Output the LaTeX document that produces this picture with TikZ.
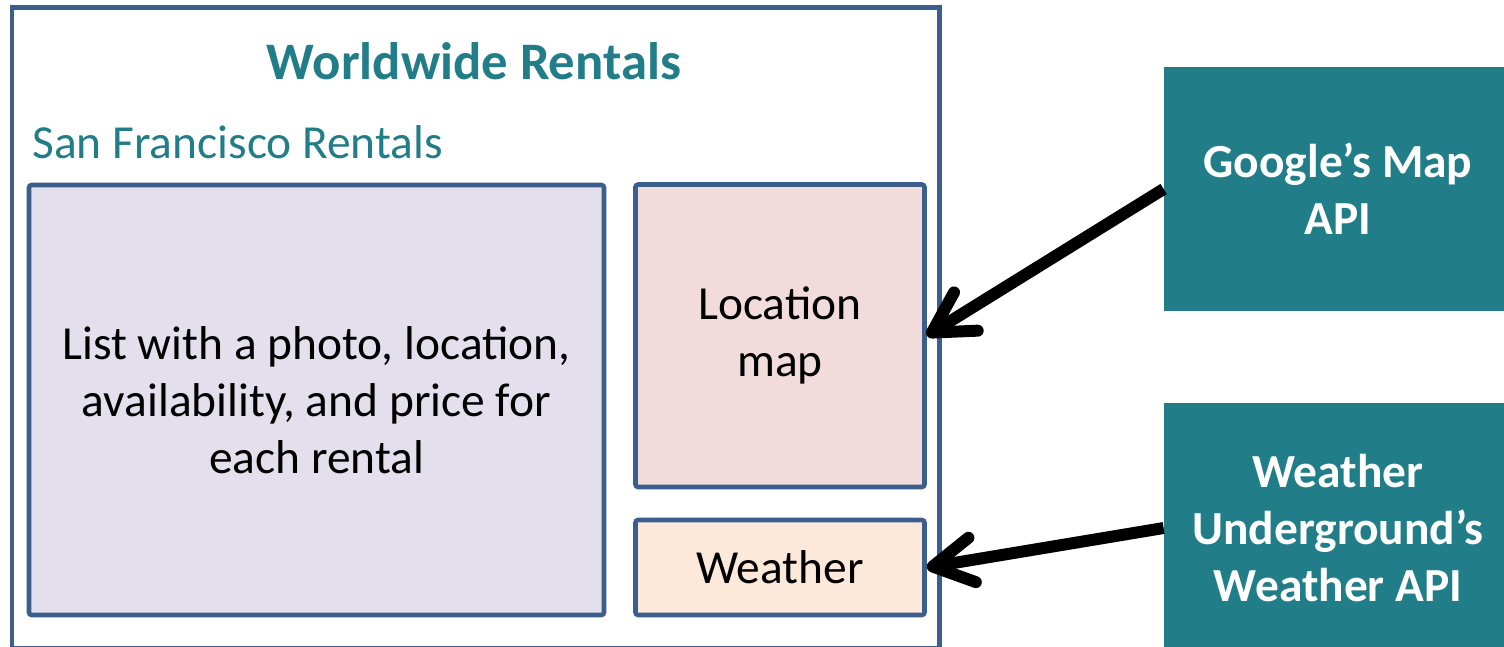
\documentclass[tikz,border=0pt]{standalone}
\usepackage{fontspec}
\setmainfont{Carlito}
\usetikzlibrary{arrows.meta, positioning}
\definecolor{frameblue}{HTML}{3B5E8C}
\definecolor{apiteal}{HTML}{217E89}
\definecolor{listfill}{HTML}{E4DFEC}
\definecolor{mapfill}{HTML}{F2DCDB}
\definecolor{wxfill}{HTML}{FDE9D9}
\tikzset{
  % cornice della pagina web
  pagebox/.style={draw=frameblue, line width=2.6pt, fill=white, inner sep=0pt},
  % area interna della pagina
  area/.style={draw=frameblue, line width=2.6pt, rounded corners=1.5pt, align=center,
    inner sep=0pt, font=\fontsize{27}{32.5}\selectfont},
  % servizio esterno (API)
  api/.style={fill=apiteal, text=white, align=center, inner sep=0pt,
    font=\fontsize{27}{32.5}\selectfont\bfseries},
  % titoli della pagina
  head/.style={text=apiteal, inner sep=0pt},
  % freccia dei dati
  feed/.style={-{Straight Barb[length=8mm, width=9mm, round]}, line width=6.8pt},
}
\begin{document}
\begin{tikzpicture}
  \useasboundingbox (0,0) rectangle (30.08,12.92);
  \node[pagebox, minimum width=18.55cm, minimum height=12.82cm] (page) at (9.515,6.36) {};
  \node[head, anchor=base, font=\fontsize{30}{36}\selectfont\bfseries] (title) at (9.48,11.32) {Worldwide Rentals};
  \node[head, anchor=base west, font=\fontsize{27}{32.5}\selectfont] (city) at (0.64,9.76) {San Francisco Rentals};
  \node[area, fill=listfill, minimum width=11.5cm, minimum height=8.6cm] (list) at (6.33,4.92)
    {List with a photo, location,\\ availability, and price for\\ each rental};
  \node[area, fill=mapfill, minimum width=5.78cm, minimum height=6.05cm] (map) at (15.6,6.205)
    {Location\\ map};
  \node[area, fill=wxfill, minimum width=5.78cm, minimum height=1.9cm] (weather) at (15.6,1.57)
    {Weather};
  \node[api, minimum width=6.96cm, minimum height=4.88cm] (gmap) at (26.76,9.14)
    {Google’s Map\\ API};
  \node[api, minimum width=6.96cm, minimum height=5.0cm] (wapi) at (26.76,2.36)
    {Weather\\ Underground’s\\ Weather API};
  \draw[feed] (gmap.west) -- (map.east);
  \draw[feed] (wapi.west) -- (weather.east);
\end{tikzpicture}
\end{document}
